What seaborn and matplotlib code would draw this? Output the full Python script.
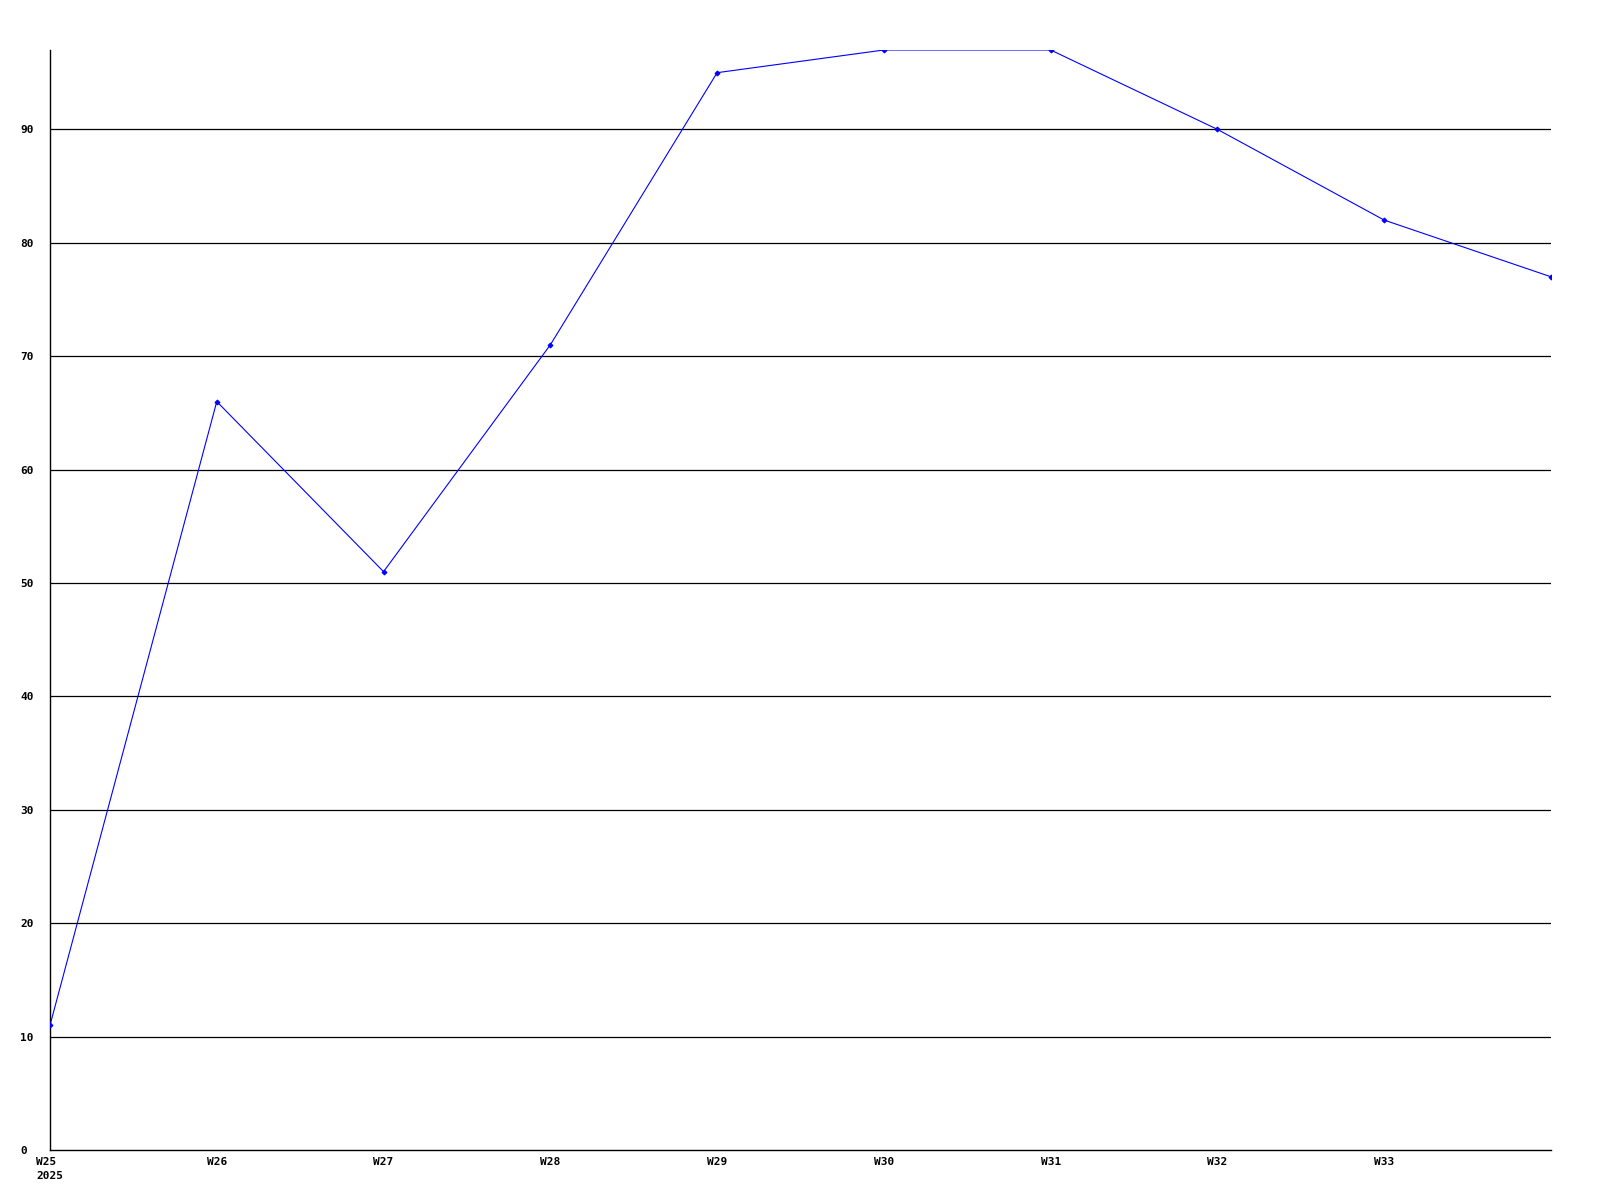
import matplotlib
matplotlib.use("Agg")
import matplotlib.pyplot as plt
import seaborn as sns
import pandas as pd

weeks = ["W25", "W26", "W27", "W28", "W29", "W30", "W31", "W32", "W33", "W34"]
values = [11, 66, 51, 71, 95, 97, 97, 90, 82, 77]
tick_labels = ["W25\n2025", "W26", "W27", "W28", "W29", "W30", "W31", "W32", "W33"]
y_ticks = [0, 10, 20, 30, 40, 50, 60, 70, 80, 90]

sns.set_style("white")
plt.rcParams['font.family'] = ['DejaVu Sans Mono', 'DejaVu Sans']

df = pd.DataFrame({"idx": range(len(weeks)), "week": weeks, "value": values})

fig = plt.figure(figsize=(16, 12), dpi=100)
ax = fig.add_axes([50/1600, 50/1200, 1501/1600, 1100/1200])

for v in y_ticks[1:]:
    ax.axhline(v, color="black", lw=0.9, zorder=1)

sns.lineplot(data=df, x="idx", y="value", ax=ax, color="#0000ff", lw=0.8,
             marker="D", markersize=2.5, markeredgecolor="#0000ff", zorder=3)

ax.set_xlim(0, len(weeks) - 1)
ax.set_ylim(0, 97)
ax.set_xticks(range(len(tick_labels)))
ax.set_xticklabels(tick_labels, fontsize=8, fontweight="bold", multialignment="left",
                   color="black", linespacing=1.5)
ax.set_yticks(y_ticks)
ax.set_yticklabels([str(v) for v in y_ticks], fontsize=8, fontweight="bold", color="black",
                   ha="left")
ax.tick_params(axis="both", length=0)
ax.tick_params(axis="y", pad=21.6)
ax.tick_params(axis="x", pad=5)
ax.set_xlabel("")
ax.set_ylabel("")
for s in ["top", "right"]:
    ax.spines[s].set_visible(False)
for s in ["left", "bottom"]:
    ax.spines[s].set_color("black")
    ax.spines[s].set_linewidth(1.0)

fig.savefig("out.png", dpi=100, facecolor="white")
